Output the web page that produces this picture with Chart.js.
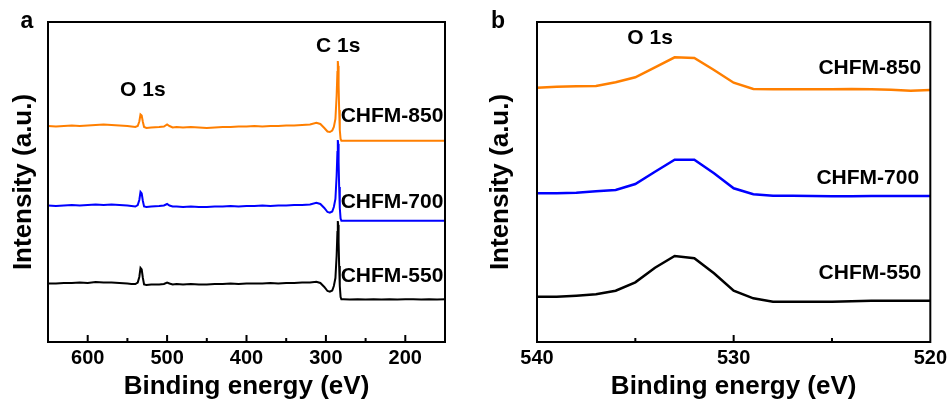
<!DOCTYPE html>
<html><head><meta charset="utf-8">
<script src="https://cdn.jsdelivr.net/npm/chart.js@4.4.0/dist/chart.umd.min.js"></script>
<style>
html,body{margin:0;padding:0;background:#fff;}
#wrap{position:relative;width:951px;height:402px;overflow:hidden;background:#fff;}
canvas{position:absolute;top:0;}
#ca{left:0;} #cb{left:480px;}
</style></head><body>
<div id="wrap"><canvas id="ca" width="480" height="402"></canvas><canvas id="cb" width="471" height="402"></canvas></div>
<script>
// ---- Panel a: XPS survey ----
const energiesA = [650,640,630,620,610,600,590,580,570,560,550,545,540,537,535,533.5,532,530.5,529,526,520,
  510,504,500,497,493,488,480,470,460,450,440,430,420,410,400,390,380,370,360,350,340,330,320,
  312,307,302,298,295,292,290,288,286.5,285.5,285,284.5,284,283.3,282.5,281.5,280.5,
  278,270,260,250,240,230,220,210,200,190,180,170,160,150];
const chfm850A = [216,215.5,216,216.5,216,216.5,217,217.5,217,216.5,216,215.5,215,216,220.5,227.5,226.5,220,215,214,214.5,
  215,215.5,217.5,216,214.5,215,214.5,215,214.5,214,214.5,215,215,215.5,215.5,216,215.5,216,216,216.5,216.5,217,217.5,
  219.3,218,214,210.5,210,211.5,215,223,246,270,281,276,257,232,212,203,201.3,
  201.3,201.2,201.3,201.2,201.3,201.2,201.3,201.2,201.3,201.3,201.2,201.3,201.2,201.3];
const chfm700A = [136.5,136,136.5,137,136.5,137,137.5,137,137.5,137,136.5,136,135.5,137,142,150,148.5,141,135.5,135,135.5,
  136,136.5,138,136.5,135.5,135.5,135,135.5,135,135,135.5,135.5,136,135.5,136,136,136.5,136,136.5,136.5,137,137,137.5,
  139.3,138,134,130,129.3,130.5,135,143,166,190,202,198,180,155,134,123.5,121.3,
  121.3,121.2,121.3,121.2,121.3,121.2,121.3,121.2,121.3,121.3,121.2,121.3,121.2,121.3];
const chfm550A = [58.5,58.5,59,59,59.5,59,60,59.5,59.5,59,58.5,58,58,59.5,65,74,72.5,64,57.5,57,57.5,
  57.5,58,59.5,58.5,57.5,58,57.5,58,57.5,57.5,58,58,58.5,58,58.5,58.5,58.5,59,58.5,59,59,59.5,59.5,
  60.3,59,55,51,50.3,51.5,56,64,86,110,121,117,100,76,56,45,42.7,
  42.7,42.6,42.7,42.6,42.7,42.6,42.7,42.6,42.7,42.7,42.6,42.7,42.6,42.7];
const majorTicksA = [600,500,400,300,200];
const minorTicksA = [550,450,350,250];

// ---- Panel b: O 1s ----
const energiesB = [540,539,538,537,536,535,534,533,532,531,530,529,528,527,526,525,524,523,522,521,520];
const chfm850B = [254.3,255.3,255.7,256,259.7,264.7,274.7,284.7,284,272,259.3,253,252.7,252.7,252.7,252.7,253,252.7,252.3,251.3,252];
const chfm700B = [148.7,148.7,149.3,150.7,152,158,170.3,182.3,182.3,168.7,153.7,147.7,146.3,146.3,146,145.7,145.7,146,146,146,146];
const chfm550B = [45.3,45.3,46.3,47.7,51.3,59.7,74.3,86,83.7,68.7,51.3,43.7,40.3,40.3,40.3,40.3,40.7,41.3,41.3,41.3,41.3];
const majorTicksB = [540,530,520];
const minorTicksB = [535,525];

const seriesNames = ['CHFM-850','CHFM-700','CHFM-550'];
const seriesColors = ['#FF7F00','#0000FF','#000000'];

const FAM = '"Liberation Sans", Arial, Helvetica, sans-serif';

const framePlugin = {
  id: 'frame',
  afterDraw(chart, args, o) {
    const {ctx, chartArea: {left, right, top, bottom}, scales: {x, y}} = chart;
    ctx.save();
    ctx.strokeStyle = '#000';
    ctx.lineWidth = 2;
    ctx.strokeRect(left, top, right - left, bottom - top);
    ctx.beginPath();
    o.major.forEach(v => { const px = x.getPixelForValue(v); ctx.moveTo(px, bottom); ctx.lineTo(px, bottom - 7); });
    o.minor.forEach(v => { const px = x.getPixelForValue(v); ctx.moveTo(px, bottom); ctx.lineTo(px, bottom - 4); });
    ctx.stroke();
    ctx.fillStyle = '#000';
    ctx.textBaseline = 'middle';
    o.labels.forEach(l => {
      ctx.font = 'bold ' + l.size + 'px ' + FAM;
      ctx.textAlign = l.align;
      ctx.fillText(l.text, x.getPixelForValue(l.x), y.getPixelForValue(l.y));
    });
    ctx.font = 'bold 23px ' + FAM;
    ctx.textAlign = 'center';
    ctx.textBaseline = 'alphabetic';
    ctx.fillText(o.letter, o.letterX, 28);
    ctx.restore();
  }
};

function makeChart(id, energies, seriesVals, c) {
  return new Chart(document.getElementById(id), {
    type: 'line',
    data: {
      datasets: seriesVals.map((vals, k) => ({
        label: seriesNames[k],
        data: energies.map((e, i) => ({x: e, y: vals[i]})),
        borderColor: seriesColors[k],
        borderWidth: c.lw,
        pointRadius: 0,
        tension: 0,
        fill: false
      }))
    },
    options: {
      responsive: false,
      animation: false,
      devicePixelRatio: 1,
      layout: {padding: {left: 0, top: 22, right: c.padRight, bottom: 0}},
      plugins: {
        legend: {display: false},
        tooltip: {enabled: false},
        frame: {major: c.majorDraw, minor: c.minor, labels: c.labels, letter: c.letter, letterX: c.letterX}
      },
      scales: {
        x: {
          type: 'linear', min: c.min, max: c.max, reverse: true,
          grid: {display: false, drawTicks: false},
          border: {display: false},
          afterBuildTicks: s => { s.ticks = c.major.map(v => ({value: v})); },
          ticks: {font: {family: FAM, size: 20, weight: 'bold'}, color: '#000', padding: 4, maxRotation: 0, autoSkip: false},
          title: {display: true, text: 'Binding energy (eV)', font: {family: FAM, size: 26, weight: 'bold'}, color: '#000', padding: {top: 0, bottom: 0}},
          afterFit: s => { s.height = 60; }
        },
        y: {
          type: 'linear', min: 0, max: 320,
          grid: {display: false, drawTicks: false},
          border: {display: false},
          ticks: {display: false},
          title: {display: true, text: 'Intensity (a.u.)', font: {family: FAM, size: 26, weight: 'bold'}, color: '#000', padding: {top: c.ytPad, bottom: 0}},
          afterFit: s => { s.width = c.yWidth; }
        }
      }
    },
    plugins: [framePlugin]
  });
}

makeChart('ca', energiesA, [chfm850A, chfm700A, chfm550A], {
  min: 150, max: 650, lw: 2, padRight: 35, yWidth: 48, ytPad: 8,
  major: majorTicksA, majorDraw: majorTicksA, minor: minorTicksA,
  letter: 'a', letterX: 27,
  labels: [
    {text: 'C 1s', x: 284.6, y: 295.5, size: 21, align: 'center'},
    {text: 'O 1s', x: 530.6, y: 252, size: 21, align: 'center'},
    {text: 'CHFM-850', x: 152.1, y: 226, size: 21, align: 'right'},
    {text: 'CHFM-700', x: 152.1, y: 140, size: 21, align: 'right'},
    {text: 'CHFM-550', x: 152.1, y: 66, size: 21, align: 'right'}
  ]
});

makeChart('cb', energiesB, [chfm850B, chfm700B, chfm550B], {
  min: 520, max: 540, lw: 2.5, padRight: 19, yWidth: 57, ytPad: 5,
  major: majorTicksB, majorDraw: [530], minor: minorTicksB,
  letter: 'b', letterX: 18,
  labels: [
    {text: 'O 1s', x: 534.25, y: 303.5, size: 21, align: 'center'},
    {text: 'CHFM-850', x: 520.47, y: 274, size: 21, align: 'right'},
    {text: 'CHFM-700', x: 520.57, y: 164, size: 21, align: 'right'},
    {text: 'CHFM-550', x: 520.46, y: 69, size: 21, align: 'right'}
  ]
});
</script>
</body></html>
